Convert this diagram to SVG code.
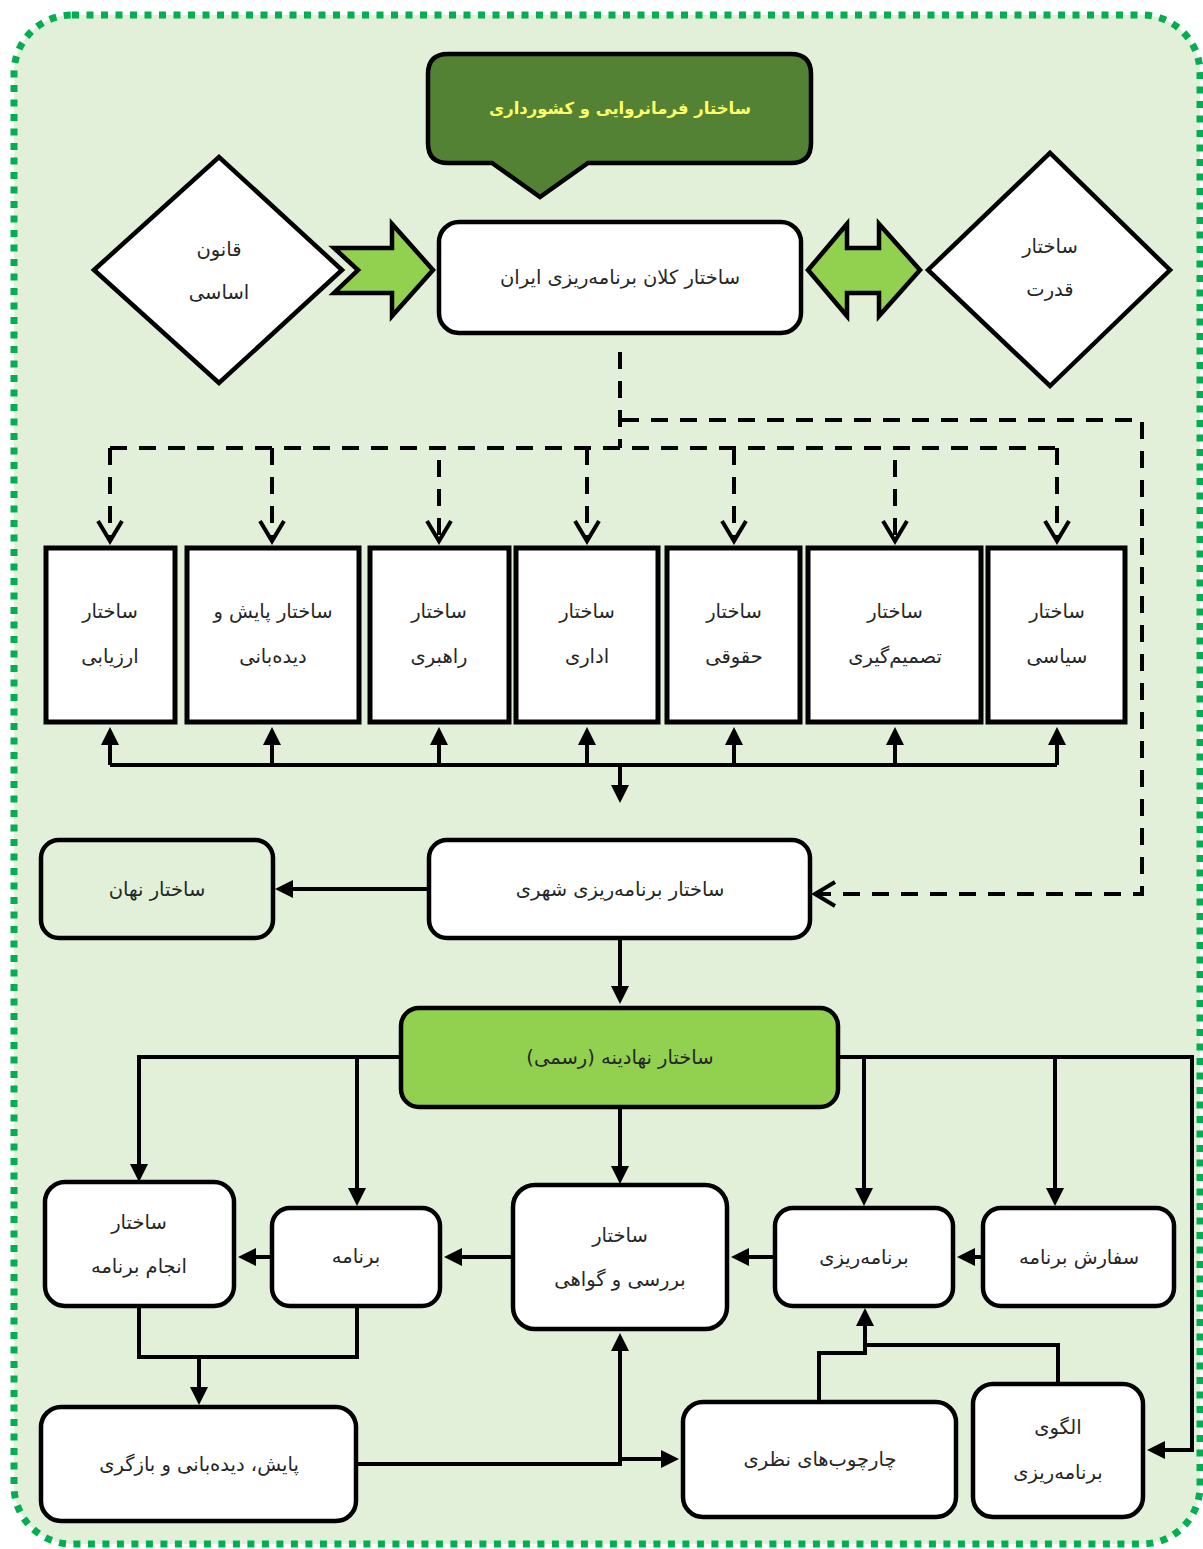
<svg xmlns="http://www.w3.org/2000/svg" width="1203" height="1549" viewBox="0 0 1203 1549">
<style>
  .t{font-family:"DejaVu Sans",sans-serif;font-size:19.5px;fill:#262626;text-anchor:middle;direction:rtl}
  .title{font-family:"DejaVu Sans",sans-serif;font-size:16.5px;font-weight:bold;fill:#ffff66;text-anchor:middle;direction:rtl}
  .box{fill:#ffffff;stroke:#000;stroke-width:4.5}
  .sq{fill:#ffffff;stroke:#000;stroke-width:5}
  .ln{fill:none;stroke:#000;stroke-width:4}
  .dash{fill:none;stroke:#000;stroke-width:4;stroke-dasharray:17 12}
</style>
<defs>
  <marker id="arr" markerUnits="userSpaceOnUse" viewBox="0 0 18 18" markerWidth="18" markerHeight="18" refX="14" refY="9" orient="auto">
    <path d="M0,0 L18,9 L0,18 z" fill="#000"/>
  </marker>
  <marker id="open" markerUnits="userSpaceOnUse" viewBox="-2 -2 26 28" markerWidth="26" markerHeight="28" refX="20" refY="12" orient="auto">
    <path d="M0,0 L20,12 L0,24" fill="none" stroke="#000" stroke-width="4"/>
  </marker>
</defs>

<rect id="frame" x="14" y="15" width="1186" height="1529" rx="58" fill="#e2efd9" stroke="#00b050" stroke-width="7" stroke-dasharray="7 7.5"/>

<g id="connectors">
  <path class="dash" d="M620,352 V448"/>
  <path class="dash" d="M110,448 H1057"/>
  <path class="dash" d="M110,448 V541" marker-end="url(#open)"/>
  <path class="dash" d="M272,448 V541" marker-end="url(#open)"/>
  <path class="dash" d="M439,460 V541" marker-end="url(#open)"/>
  <path class="dash" d="M587,448 V541" marker-end="url(#open)"/>
  <path class="dash" d="M734,448 V541" marker-end="url(#open)"/>
  <path class="dash" d="M895,460 V541" marker-end="url(#open)"/>
  <path class="dash" d="M1057,448 V541" marker-end="url(#open)"/>
  <path class="dash" d="M622,420 H1142 V894 H815" marker-end="url(#open)"/>
  <path class="ln" d="M110,765 H1057"/>
  <path class="ln" d="M110,765 V731" marker-end="url(#arr)"/>
  <path class="ln" d="M272,765 V731" marker-end="url(#arr)"/>
  <path class="ln" d="M439,765 V731" marker-end="url(#arr)"/>
  <path class="ln" d="M587,765 V731" marker-end="url(#arr)"/>
  <path class="ln" d="M734,765 V731" marker-end="url(#arr)"/>
  <path class="ln" d="M895,765 V731" marker-end="url(#arr)"/>
  <path class="ln" d="M1057,765 V731" marker-end="url(#arr)"/>
  <path class="ln" d="M620,765 V799" marker-end="url(#arr)"/>
  <path class="ln" d="M429,889 H279" marker-end="url(#arr)"/>
  <path class="ln" d="M620,938 V1000" marker-end="url(#arr)"/>
  <path class="ln" d="M401,1057 H139 V1178" marker-end="url(#arr)"/>
  <path class="ln" d="M357,1057 V1202" marker-end="url(#arr)"/>
  <path class="ln" d="M620,1107 V1180" marker-end="url(#arr)"/>
  <path class="ln" d="M839,1057 H1192 V1450 H1151" marker-end="url(#arr)"/>
  <path class="ln" d="M864,1057 V1202" marker-end="url(#arr)"/>
  <path class="ln" d="M1055,1057 V1202" marker-end="url(#arr)"/>
  <path class="ln" d="M983,1257 H961" marker-end="url(#arr)"/>
  <path class="ln" d="M774,1257 H735" marker-end="url(#arr)"/>
  <path class="ln" d="M513,1257 H448" marker-end="url(#arr)"/>
  <path class="ln" d="M272,1257 H242" marker-end="url(#arr)"/>
  <path class="ln" d="M139,1306 V1357 H357 V1306"/>
  <path class="ln" d="M199,1357 V1401" marker-end="url(#arr)"/>
  <path class="ln" d="M356,1464 H620"/>
  <path class="ln" d="M620,1466 V1337" marker-end="url(#arr)"/>
  <path class="ln" d="M618,1459 H675" marker-end="url(#arr)"/>
  <path class="ln" d="M819,1402 V1353 H865"/>
  <path class="ln" d="M1058,1383 V1345 H863"/>
  <path class="ln" d="M865,1355 V1312" marker-end="url(#arr)"/>
</g>

<g id="governance">
  <path d="M448,54 H791 Q811,54 811,74 V143 Q811,163 791,163 H588 L540,197 L492,163 H448 Q428,163 428,143 V74 Q428,54 448,54 Z" fill="#548235" stroke="#000" stroke-width="4.5"/>
  <text class="title" x="620" y="114">ساختار فرمانروایی و کشورداری</text>
</g>

<g id="constitution">
  <polygon points="94,270 219,157 342,270 219,383" fill="#fff" stroke="#000" stroke-width="4.5"/>
  <text class="t" x="219" y="256">قانون</text>
  <text class="t" x="219" y="299">اساسی</text>
</g>

<g id="arrow-right">
  <polygon points="334,248 392,248 392,224 433,270 392,316 392,293 334,293 358,270" fill="#92d050" stroke="#000" stroke-width="4.5"/>
</g>

<g id="macro">
  <rect class="box" x="439" y="222" width="362" height="111" rx="20"/>
  <text class="t" x="620" y="284">ساختار کلان برنامه&#x200C;ریزی ایران</text>
</g>

<g id="arrow-double">
  <polygon points="808,270 847,224 847,248 879,248 879,224 920,270 879,316 879,293 847,293 847,316" fill="#92d050" stroke="#000" stroke-width="4.5"/>
</g>

<g id="power">
  <polygon points="928,270 1050,153 1170,270 1050,386" fill="#fff" stroke="#000" stroke-width="4.5"/>
  <text class="t" x="1050" y="253">ساختار</text>
  <text class="t" x="1050" y="296">قدرت</text>
</g>

<g id="evaluation">
  <rect class="sq" x="46" y="548" width="129" height="174"/>
  <text class="t" x="110" y="618">ساختار</text>
  <text class="t" x="110" y="663">ارزیابی</text>
</g>
<g id="monitoring-structure">
  <rect class="sq" x="187" y="548" width="172" height="174"/>
  <text class="t" x="273" y="618">ساختار پایش و</text>
  <text class="t" x="273" y="663">دیده&#x200C;بانی</text>
</g>
<g id="leadership">
  <rect class="sq" x="370" y="548" width="139" height="174"/>
  <text class="t" x="439" y="618">ساختار</text>
  <text class="t" x="439" y="663">راهبری</text>
</g>
<g id="administrative">
  <rect class="sq" x="516" y="548" width="142" height="174"/>
  <text class="t" x="587" y="618">ساختار</text>
  <text class="t" x="587" y="663">اداری</text>
</g>
<g id="legal">
  <rect class="sq" x="667" y="548" width="133" height="174"/>
  <text class="t" x="734" y="618">ساختار</text>
  <text class="t" x="734" y="663">حقوقی</text>
</g>
<g id="decision">
  <rect class="sq" x="808" y="548" width="173" height="174"/>
  <text class="t" x="895" y="618">ساختار</text>
  <text class="t" x="895" y="663">تصمیم&#x200C;گیری</text>
</g>
<g id="political">
  <rect class="sq" x="988" y="548" width="137" height="174"/>
  <text class="t" x="1057" y="618">ساختار</text>
  <text class="t" x="1057" y="663">سیاسی</text>
</g>

<g id="hidden">
  <rect x="41" y="840" width="232" height="98" rx="18" fill="#e2efd9" stroke="#000" stroke-width="4.5"/>
  <text class="t" x="157" y="896">ساختار نهان</text>
</g>
<g id="urban">
  <rect class="box" x="429" y="840" width="381" height="98" rx="18"/>
  <text class="t" x="620" y="896">ساختار برنامه&#x200C;ریزی شهری</text>
</g>
<g id="institutional">
  <rect x="401" y="1008" width="437" height="99" rx="18" fill="#92d050" stroke="#000" stroke-width="4.5"/>
  <text class="t" x="620" y="1064">ساختار نهادینه (رسمی)</text>
</g>

<g id="execution">
  <rect class="box" x="45" y="1182" width="189" height="124" rx="20"/>
  <text class="t" x="139" y="1229">ساختار</text>
  <text class="t" x="139" y="1273">انجام برنامه</text>
</g>
<g id="program">
  <rect class="box" x="272" y="1208" width="168" height="98" rx="18"/>
  <text class="t" x="356" y="1263">برنامه</text>
</g>
<g id="review">
  <rect class="box" x="513" y="1185" width="214" height="144" rx="22"/>
  <text class="t" x="620" y="1242">ساختار</text>
  <text class="t" x="620" y="1286">بررسی و گواهی</text>
</g>
<g id="planning">
  <rect class="box" x="775" y="1208" width="178" height="98" rx="18"/>
  <text class="t" x="864" y="1264">برنامه&#x200C;ریزی</text>
</g>
<g id="order">
  <rect class="box" x="983" y="1208" width="191" height="98" rx="18"/>
  <text class="t" x="1079" y="1264">سفارش برنامه</text>
</g>
<g id="monitoring">
  <rect class="box" x="41" y="1407" width="315" height="114" rx="20"/>
  <text class="t" x="199" y="1471">پایش، دیده&#x200C;بانی و بازگری</text>
</g>
<g id="frameworks">
  <rect class="box" x="683" y="1402" width="273" height="115" rx="20"/>
  <text class="t" x="820" y="1466">چارچوب&#x200C;های نظری</text>
</g>
<g id="pattern">
  <rect class="box" x="973" y="1384" width="170" height="133" rx="20"/>
  <text class="t" x="1058" y="1434">الگوی</text>
  <text class="t" x="1058" y="1479">برنامه&#x200C;ریزی</text>
</g>
</svg>
